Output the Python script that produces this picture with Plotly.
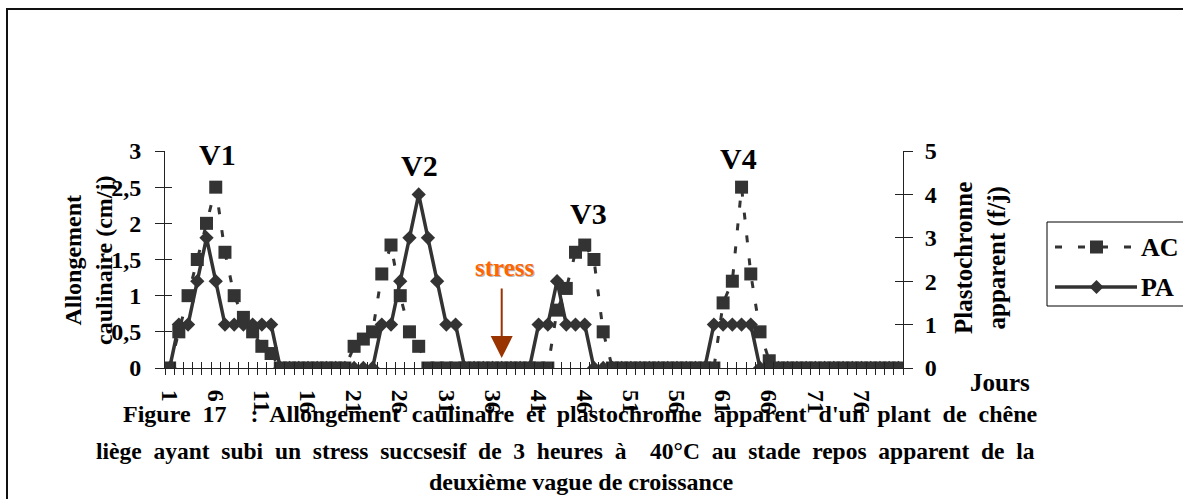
import plotly.graph_objects as go

# ---- data -------------------------------------------------------------
days = list(range(1, 81))

# Allongement caulinaire (cm/j)
ac = ([0, 0.5, 1.0, 1.5, 2.0, 2.5, 1.6, 1.0, 0.7, 0.5, 0.3, 0.2]
      + [0] * 8
      + [0.3, 0.4, 0.5, 1.3, 1.7, 1.0, 0.5, 0.3]
      + [0] * 14
      + [0.8, 1.1, 1.6, 1.7, 1.5, 0.5]
      + [0] * 12
      + [0.9, 1.2, 2.5, 1.3, 0.5, 0.1]
      + [0] * 14)

# Plastochronne apparent (f/j)
pa = ([0, 1, 1, 2, 3, 2, 1, 1, 1, 1, 1, 1]
      + [0] * 11
      + [1, 1, 2, 3, 4, 3, 2, 1, 1]
      + [0] * 8
      + [1, 1, 2, 1, 1, 1]
      + [0] * 13
      + [1, 1, 1, 1, 1]
      + [0] * 16)

x_tick_days = list(range(1, 80, 5))
left_ticks = [0, 0.5, 1, 1.5, 2, 2.5, 3]
left_labels = ["0", "0,5", "1", "1,5", "2", "2,5", "3"]
right_ticks = [0, 1, 2, 3, 4, 5]
wave_names = ["V1", "V2", "V3", "V4"]
stress_day = 37

caption = [
    "Figure 17  : Allongement caulinaire et plastochronne apparent "
    "d'un plant de chêne",
    "liège ayant subi un stress succsesif de 3 heures à  40°C au stade "
    "repos apparent de la",
    "deuxième vague de croissance",
]

# ---- geometry ---------------------------------------------------------
FIG_W, FIG_H = 1183, 499
L, R, T, B = 165, 280, 151, 131
W = FIG_W - L - R
H = FIG_H - T - B


def px(xp):
    return (xp - L) / W


def py(yp):
    return 1 - (yp - T) / H


def spread(s):
    # justified caption lines: widen every word gap
    return s.replace(" ", "\u00a0 ")


SERIF = "Liberation Serif"
INK = "#333333"
AXIS = "#222222"
boundaries = [d + 0.5 for d in range(0, 81)]
XR = [0.5, 80.5]

fig = go.Figure()

fig.add_trace(go.Scatter(
    x=days, y=ac, name="AC", mode="lines+markers", xaxis="x", yaxis="y",
    line=dict(color=INK, width=3, dash="7px,16px"),
    marker=dict(symbol="square", size=13, color=INK),
    showlegend=False, hoverinfo="skip"))

fig.add_trace(go.Scatter(
    x=days, y=pa, name="PA", mode="lines+markers", xaxis="x", yaxis="y2",
    line=dict(color=INK, width=3.5),
    marker=dict(symbol="diamond", size=11, color=INK),
    showlegend=False, hoverinfo="skip"))

# placeholder traces so the tick-only overlay axes are registered
for xa, ya in [("x2", "y"), ("x3", "y"), ("x", "y3"), ("x", "y4"),
               ("x", "y5"), ("x", "y6")]:
    fig.add_trace(go.Scatter(x=[None], y=[None], xaxis=xa, yaxis=ya,
                             showlegend=False, hoverinfo="skip"))

tickfont = dict(family=SERIF, size=24, color="black", weight="bold")
clear = "rgba(0,0,0,0)"

fig.update_layout(
    width=FIG_W, height=FIG_H,
    margin=dict(l=L, r=R, t=T, b=B, pad=0),
    paper_bgcolor="white", plot_bgcolor="white",
    showlegend=False,
    xaxis=dict(range=XR, tickmode="array", tickvals=x_tick_days,
               ticktext=[str(d) for d in x_tick_days], tickangle=90,
               ticks="outside", ticklen=16, tickcolor=clear,
               tickfont=tickfont, showline=True, linecolor=AXIS,
               linewidth=1, showgrid=False, zeroline=False),
    xaxis2=dict(range=XR, overlaying="x", anchor="y", side="bottom",
                tickmode="array", tickvals=boundaries, ticks="outside",
                ticklen=6, tickcolor=AXIS, showticklabels=False,
                showline=False, showgrid=False, zeroline=False),
    xaxis3=dict(range=XR, overlaying="x", anchor="y", side="bottom",
                tickmode="array", tickvals=boundaries, ticks="inside",
                ticklen=6, tickcolor=AXIS, showticklabels=False,
                showline=False, showgrid=False, zeroline=False),
    yaxis=dict(range=[0, 3], tickmode="array", tickvals=left_ticks,
               ticktext=left_labels, ticks="outside", ticklen=18,
               tickcolor=clear, tickfont=tickfont, showline=True,
               linecolor=AXIS, linewidth=1, showgrid=False, zeroline=False),
    yaxis2=dict(range=[0, 5], overlaying="y", side="right", anchor="x",
                tickmode="array", tickvals=right_ticks, ticks="outside",
                ticklen=16, tickcolor=clear, tickfont=tickfont,
                showline=True, linecolor=AXIS, linewidth=1,
                showgrid=False, zeroline=False),
    yaxis3=dict(range=[0, 3], overlaying="y", side="left", anchor="x",
                tickmode="array", tickvals=left_ticks, ticks="outside",
                ticklen=9, tickcolor=AXIS, showticklabels=False,
                showline=False, showgrid=False, zeroline=False),
    yaxis4=dict(range=[0, 3], overlaying="y", side="left", anchor="x",
                tickmode="array", tickvals=left_ticks, ticks="inside",
                ticklen=7, tickcolor=AXIS, showticklabels=False,
                showline=False, showgrid=False, zeroline=False),
    yaxis5=dict(range=[0, 5], overlaying="y", side="right", anchor="x",
                tickmode="array", tickvals=right_ticks, ticks="outside",
                ticklen=9, tickcolor=AXIS, showticklabels=False,
                showline=False, showgrid=False, zeroline=False),
    yaxis6=dict(range=[0, 5], overlaying="y", side="right", anchor="x",
                tickmode="array", tickvals=right_ticks, ticks="inside",
                ticklen=8, tickcolor=AXIS, showticklabels=False,
                showline=False, showgrid=False, zeroline=False),
)

ann = []


def text_at(xp, yp, text, size, color="black", angle=0, xanchor="center"):
    ann.append(dict(x=px(xp), y=py(yp), xref="paper", yref="paper",
                    text=text, showarrow=False, textangle=angle,
                    xanchor=xanchor, yanchor="middle",
                    font=dict(family=SERIF, size=size, color=color,
                              weight="bold")))


# wave labels
for name, (xp, yp) in zip(wave_names, [(217.5, 154), (419, 165),
                                        (588, 213), (738, 158)]):
    text_at(xp, yp, name, 30)

# axis titles
text_at(88, 260, "Allongement<br>caulinaire (cm/j)", 24, angle=-90)
text_at(980, 258, "Plastochronne<br>apparent (f/j)", 25, angle=-90)
text_at(1000, 382, "Jours", 25)

# stress marker
text_at(506, 268.5, "stress", 25, color="#b8b8b8")
text_at(504.5, 267, "stress", 25, color="#FF6600")
ann.append(dict(x=stress_day, y=0, xref="x", yref="y", text="",
                showarrow=True, ax=0, ay=-81, axref="pixel", ayref="pixel",
                standoff=10, arrowhead=2, arrowsize=2.2, arrowwidth=2,
                arrowcolor="#993300"))

# caption
text_at(580, 414, spread(caption[0]), 24)
text_at(565, 451, spread(caption[1]), 23.5)
text_at(581, 482, caption[2], 24)

# legend
text_at(1139, 247, "AC", 26, xanchor="left")
text_at(1139, 287, "PA", 26, xanchor="left")

shapes = [
    # outer frame
    dict(type="rect", xref="paper", yref="paper", x0=px(7), y0=py(9),
         x1=px(1200), y1=py(520), line=dict(color="#111111", width=2)),
    # legend box
    dict(type="rect", xref="paper", yref="paper", x0=px(1047), y0=py(222),
         x1=px(1200), y1=py(306), line=dict(color="black", width=1),
         fillcolor="white", layer="above"),
    dict(type="line", xref="paper", yref="paper", x0=px(1055), y0=py(247),
         x1=px(1137), y1=py(247),
         line=dict(color=INK, width=3, dash="7px,16px")),
    dict(type="rect", xref="paper", yref="paper", x0=px(1090), y0=py(240.5),
         x1=px(1103), y1=py(253.5), line=dict(width=0), fillcolor=INK),
    dict(type="line", xref="paper", yref="paper", x0=px(1055), y0=py(287),
         x1=px(1137), y1=py(287), line=dict(color=INK, width=3.5)),
    dict(type="path", xref="paper", yref="paper",
         path=(f"M {px(1096.5)} {py(280)} L {px(1103.5)} {py(287)} "
               f"L {px(1096.5)} {py(294)} L {px(1089.5)} {py(287)} Z"),
         line=dict(width=0), fillcolor=INK),
]

fig.update_layout(annotations=ann, shapes=shapes)

fig.write_html("out.html")
